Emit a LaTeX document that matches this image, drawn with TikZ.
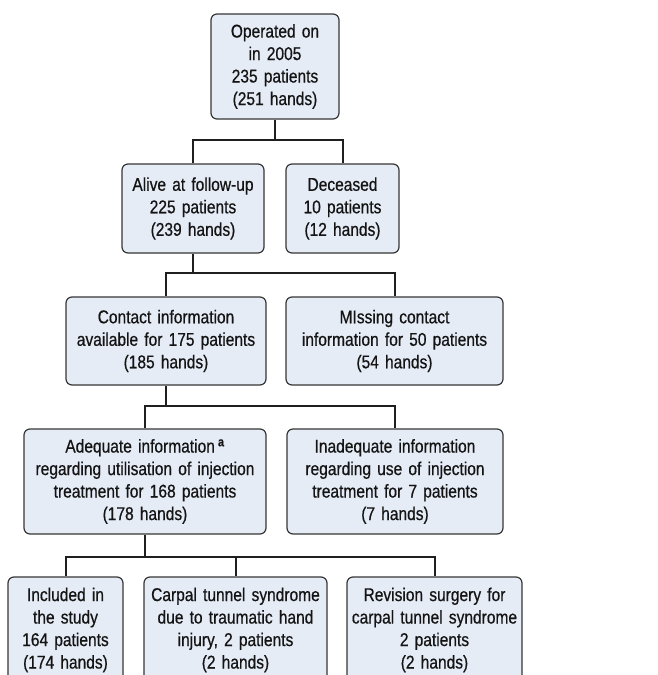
\documentclass[tikz,border=0pt]{standalone}
\usepackage{fontspec}
\setmainfont[FakeStretch=0.84,FakeBold=0.6]{Liberation Sans}
\definecolor{boxfill}{HTML}{E6ECF6}
\definecolor{boxline}{HTML}{363636}
\definecolor{txt}{HTML}{141414}
\begin{document}
\begin{tikzpicture}[x=1pt,y=-1pt,
  flowbox/.style={draw=boxline, fill=boxfill, line width=1.2pt, rounded corners=6pt,
    inner sep=0pt, align=center, text=txt,
    font=\fontsize{18.5}{22.5}\selectfont},
  conn/.style={draw=black!88, line width=2pt}]
\useasboundingbox (0,0) rectangle (657,675);
\clip (0,0) rectangle (657,675);
\node[flowbox, minimum width=128pt, minimum height=105pt, text width=126pt] (top) at (275,66.5)
  {Operated on\\in 2005\\235 patients\\(251 hands)};
\node[flowbox, minimum width=142pt, minimum height=89pt, text width=140pt] (alive) at (193,208.5)
  {Alive at follow-up\\225 patients\\(239 hands)};
\node[flowbox, minimum width=113pt, minimum height=89pt, text width=111pt] (dec) at (342.5,208.5)
  {Deceased\\10 patients\\(12 hands)};
\node[flowbox, minimum width=200pt, minimum height=88pt, text width=198pt] (contact) at (166,341)
  {Contact information\\available for 175 patients\\(185 hands)};
\node[flowbox, minimum width=217pt, minimum height=88pt, text width=215pt] (missing) at (394.5,341)
  {MIssing contact\\information for 50 patients\\(54 hands)};
\node[flowbox, minimum width=242pt, minimum height=105pt, text width=240pt] (adeq) at (145,481.5)
  {Adequate information\,\textsuperscript{\textbf{a}}\\regarding utilisation of injection\\treatment for 168 patients\\(178 hands)};
\node[flowbox, minimum width=216pt, minimum height=105pt, text width=214pt] (inadeq) at (395,481.5)
  {Inadequate information\\regarding use of injection\\treatment for 7 patients\\(7 hands)};
\node[flowbox, minimum width=115pt, minimum height=106pt, text width=113pt] (incl) at (65.5,630)
  {Included in\\the study\\164 patients\\(174 hands)};
\node[flowbox, minimum width=183pt, minimum height=106pt, text width=181pt] (carpal) at (235.5,630)
  {Carpal tunnel syndrome\\due to traumatic hand\\injury, 2 patients\\(2 hands)};
\node[flowbox, minimum width=175pt, minimum height=106pt, text width=173pt] (rev) at (434.5,630)
  {Revision surgery for\\carpal tunnel syndrome\\2 patients\\(2 hands)};
\coordinate (j1) at (275,140);
\coordinate (j2) at (193,273);
\coordinate (j3) at (166,406);
\coordinate (j4) at (145,557);
\draw[conn] (top.south) -- (j1);
\draw[conn] (alive.north) |- (j1) -| (dec.north);
\draw[conn] (alive.south) -- (j2);
\draw[conn] (contact.north) |- (j2) -| (missing.north);
\draw[conn] (contact.south) -- (j3);
\draw[conn] (adeq.north) |- (j3) -| (inadeq.north);
\draw[conn] (adeq.south) -- (j4);
\draw[conn] (incl.north) |- (j4) -| (rev.north);
\draw[conn] (carpal.north) -- (carpal.north |- j4);
\end{tikzpicture}
\end{document}
